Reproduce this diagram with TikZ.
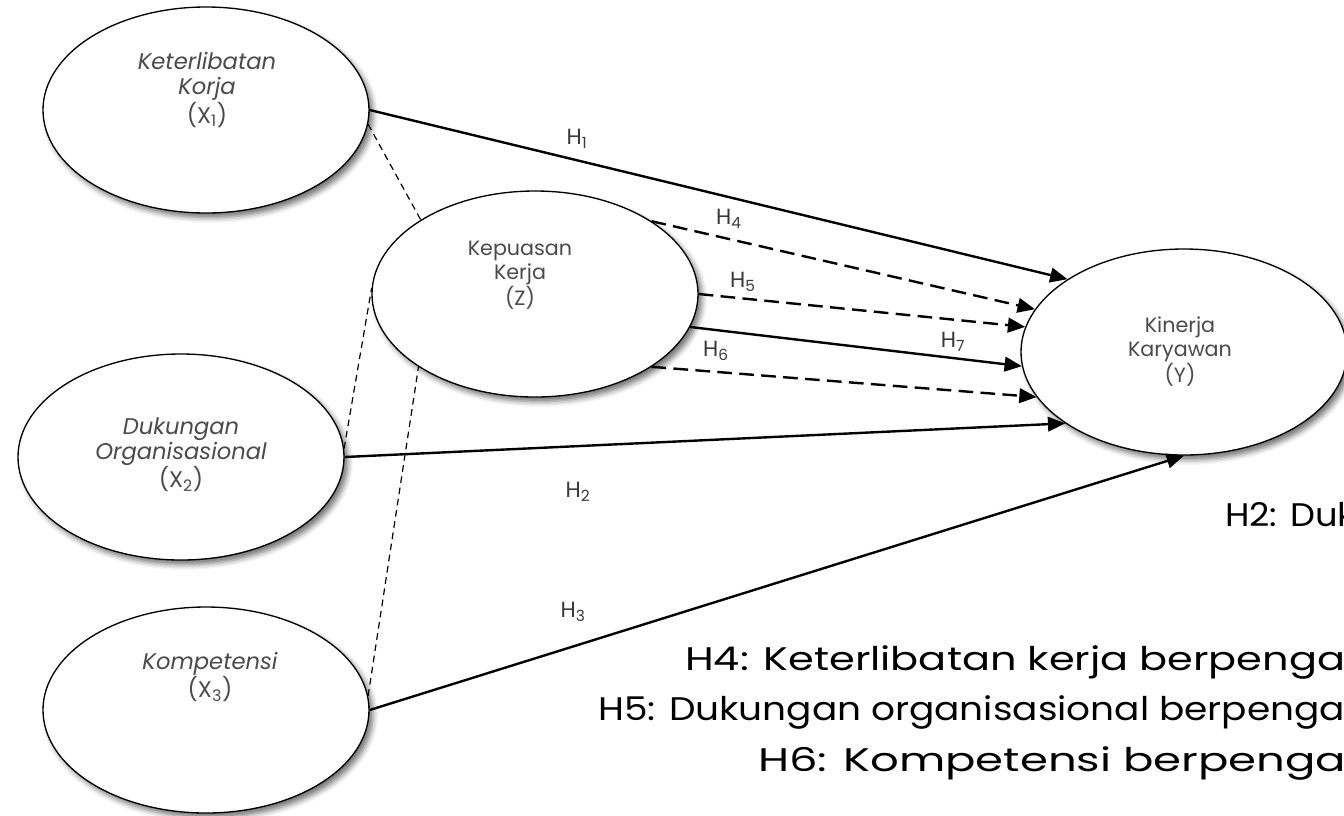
\documentclass[tikz,border=0pt]{standalone}
\usepackage{graphicx}
\usepackage{fontspec}
\setmainfont{Poppins}
\usetikzlibrary{shapes.geometric,arrows.meta,shadows.blur}
\definecolor{lbl}{HTML}{4A4A4A}
\definecolor{hyp}{HTML}{3A3A3A}
\begin{document}
\begin{tikzpicture}[x=0.75pt,y=-0.75pt,
  latent/.style={ellipse, draw, line width=1pt, fill=white,
    minimum width=244.5pt, minimum height=154.5pt, inner sep=0pt,
    blur shadow={shadow xshift=3pt, shadow yshift=-3.5pt,
      shadow blur radius=4pt, shadow opacity=55}},
  vname/.style={align=center, text=lbl, inner sep=0pt, font=\fontsize{17}{18.5}\selectfont},
  vnamesm/.style={align=center, text=lbl, inner sep=0pt, font=\fontsize{15.5}{18}\selectfont},
  hlabel/.style={text=hyp, font=\fontsize{16.5}{18}\selectfont, inner sep=0pt},
  note/.style={anchor=base west, inner sep=0pt, font=\fontsize{24.5}{30}\selectfont},
  tip/.style={-{Triangle[length=13pt,width=11pt]}},
  path/.style={tip, line width=1.8pt},
  pathdash/.style={tip, line width=1.8pt, dash pattern=on 11pt off 5.5pt},
  corr/.style={line width=0.9pt, dash pattern=on 5pt off 3.5pt}]
\useasboundingbox (0,0) rectangle (1344,815);

% latent variables
\node[latent] (x1) at (206,110) {};
\node[latent] (x2) at (181,457) {};
\node[latent] (x3) at (206,710) {};
\node[latent] (z)  at (535,294) {};
\node[latent] (y)  at (1184,352) {};

\node[vname] (x1t) at (207,90) {\itshape Keterlibatan\\\itshape Korja\\(X\textsubscript{1})};
\node[vname] (x2t) at (181,455) {\itshape Dukungan\\\itshape Organisasional\\(X\textsubscript{2})};
\node[vname] (x3t) at (210,677) {\itshape Kompetensi\\(X\textsubscript{3})};
\node[vnamesm] (zt) at (520,275) {Kepuasan\\Kerja\\(Z)};
\node[vnamesm] (yt) at (1180,352) {Kinerja\\Karyawan\\(Y)};

% direct effects on Y
\draw[path] (x1.east) -- (y.148);
\draw[path] (x2.east) -- (y.211);
\draw[path] (x3.east) -- (y.south);
\draw[path] (z.348) -- (y.185);

% mediated effects through Z
\draw[pathdash] (z.32) -- (y.164);
\draw[pathdash] (z.east) -- (y.171);
\draw[pathdash] (z.328) -- (y.197);

% links between exogenous variables and Z
\draw[corr] (x1.355) -- (z.147);
\draw[corr] (x2.3) -- (z.178);
\draw[corr] (x3.5) -- (z.212);

% path labels
\node[hlabel] (h1) at (577,139) {H\textsubscript{1}};
\node[hlabel] (h2) at (578,492) {H\textsubscript{2}};
\node[hlabel] (h3) at (573,612) {H\textsubscript{3}};
\node[hlabel] (h4) at (729,219) {H\textsubscript{4}};
\node[hlabel] (h5) at (743,282) {H\textsubscript{5}};
\node[hlabel] (h7) at (953,342) {H\textsubscript{7}};
\node[hlabel] (h6) at (716,351) {H\textsubscript{6}};

% hypothesis statements, running past the right edge
\node[note] (n2) at (1225,526) {\scalebox{1.08}[1]{H2: Duk}};
\node[note] (n4) at (685,670) {\resizebox{495pt}{\height}{H4: Keterlibatan kerja berpenga}};
\node[note] (n5) at (598,720) {\resizebox{560pt}{\height}{H5: Dukungan organisasional berpenga}};
\node[note] (n6) at (758,771) {\resizebox{441pt}{\height}{H6: Kompetensi berpenga}};
\end{tikzpicture}
\end{document}
